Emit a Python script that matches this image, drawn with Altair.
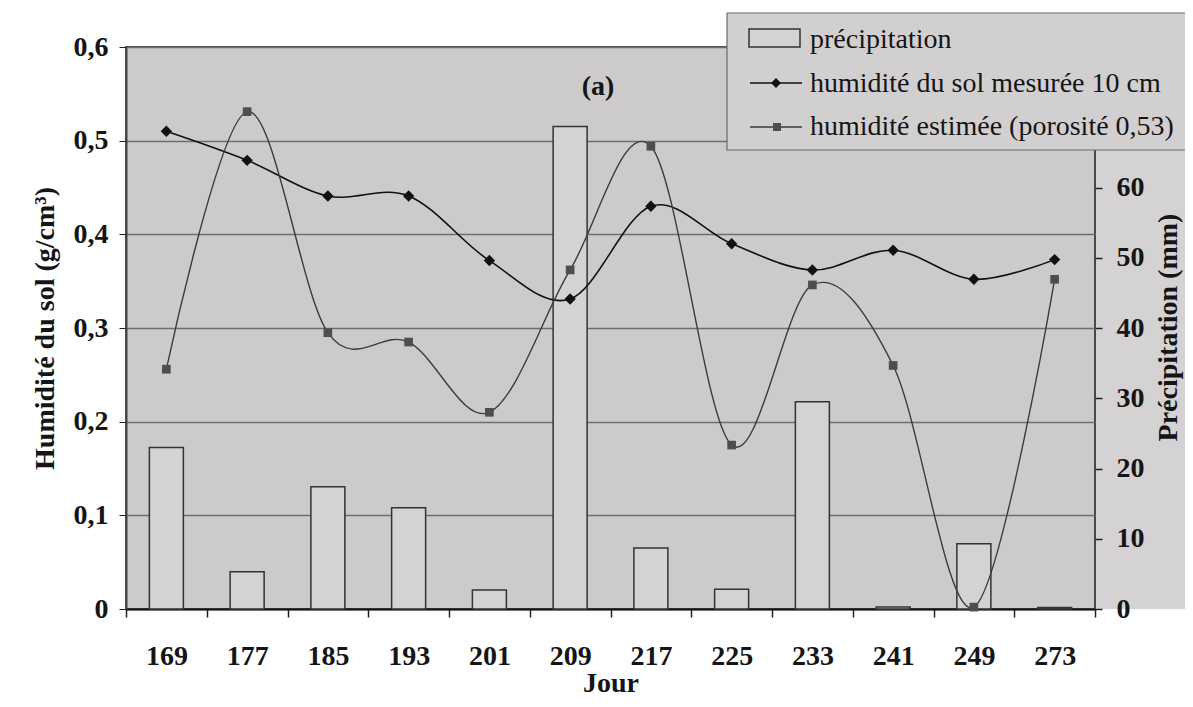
import altair as alt
import pandas as pd

# ---------------- data ----------------
jours = ["169", "177", "185", "193", "201", "209", "217", "225", "233", "241", "249", "273"]
precipitation_mm = [23.0, 5.3, 17.4, 14.4, 2.7, 68.7, 8.7, 2.8, 29.5, 0.3, 9.3, 0.2]
humidite_mesuree = [0.510, 0.479, 0.441, 0.441, 0.372, 0.331, 0.430, 0.390, 0.362, 0.383, 0.352, 0.373]
humidite_estimee = [0.256, 0.531, 0.295, 0.285, 0.210, 0.362, 0.494, 0.175, 0.346, 0.260, 0.002, 0.352]

legend_labels = ["précipitation", "humidité du sol mesurée 10 cm", "humidité estimée (porosité 0,53)"]
left_ticks = [0, 0.1, 0.2, 0.3, 0.4, 0.5, 0.6]
right_ticks = [0, 10, 20, 30, 40, 50, 60]

df_bar = pd.DataFrame({"jour": jours, "precip": precipitation_mm})
df_mes = pd.DataFrame({"jour": jours, "h": humidite_mesuree})
df_est = pd.DataFrame({"jour": jours, "h": humidite_estimee})
one = pd.DataFrame({"k": [0]})

# ---------------- style ----------------
W, H = 969, 562
FONT = "Liberation Serif"
PLOT_BG = "#cdcacb"
STRIP_BG = "#d4d2d3"
LEGEND_BG = "#d2cfd0"
BAR_FILL = "#d4d2d3"

x_enc = alt.X(
    "jour:N",
    sort=jours,
    scale=alt.Scale(paddingInner=0, paddingOuter=0),
    axis=alt.Axis(
        title="Jour",
        labelAngle=0,
        tickBand="extent",
        tickSize=8,
        tickColor="#222",
        tickWidth=1.5,
        domainColor="#111",
        domainWidth=2,
        labelBaseline="middle",
        labelPadding=39,
        titleY=74,
        titleBaseline="middle",
    ),
)

y_left_axis = alt.Axis(
    orient="left",
    title="Humidité du sol (g/cm³)",
    values=left_ticks,
    labelExpr="datum.value == 0 ? '0' : replace(format(datum.value, '.1f'), '.', ',')",
    grid=True,
    gridColor="#6e6e6e",
    gridWidth=1.4,
    tickSize=7,
    tickColor="#222",
    domainColor="#444",
    domainWidth=2,
    labelPadding=11,
    titleAngle=270,
    titleX=-81,
    titleY=281,
    titleAlign="center",
    titleBaseline="middle",
)
y_left = alt.Y("h:Q", scale=alt.Scale(domain=[0, 0.6], nice=False, zero=True), axis=y_left_axis)

y_right = alt.Y(
    "precip:Q",
    scale=alt.Scale(domain=[0, 80], nice=False),
    axis=alt.Axis(
        orient="right",
        title="Précipitation (mm)",
        values=right_ticks,
        grid=False,
        domain=False,
        tickSize=7,
        tickColor="#222",
        tickWidth=1.5,
        labelPadding=14,
        titleAngle=270,
        titleX=73,
        titleY=280,
        titleAlign="center",
        titleBaseline="middle",
        zindex=1,
    ),
)

# ---------------- marks ----------------
strip = alt.Chart(one).mark_rect(fill=STRIP_BG).encode(
    x=alt.value(W + 1), x2=alt.value(W + 95), y=alt.value(0), y2=alt.value(H)
)

bars = alt.Chart(df_bar).mark_bar(size=34, fill=BAR_FILL, stroke="#333", strokeWidth=1.5).encode(
    x=x_enc, y=y_right
)

line_mes = alt.Chart(df_mes).mark_line(
    interpolate="cardinal", tension=0, color="#111", strokeWidth=1.6
).encode(x=x_enc, y=y_left)
pts_mes = alt.Chart(df_mes).mark_point(
    shape="diamond", filled=True, size=130, color="#111", opacity=1
).encode(x=x_enc, y=y_left)

line_est = alt.Chart(df_est).mark_line(
    interpolate="cardinal", tension=0, color="#3c3c3c", strokeWidth=1.4
).encode(x=x_enc, y=y_left)
pts_est = alt.Chart(df_est).mark_point(
    shape="square", filled=True, size=75, color="#4e4e4e", opacity=1
).encode(x=x_enc, y=y_left)

humidity = alt.layer(line_mes, line_est, pts_mes, pts_est)

# legend (decoration)
leg_box = alt.Chart(one).mark_rect(fill=LEGEND_BG, stroke="#6a6a6a", strokeWidth=1.2).encode(
    x=alt.value(601), x2=alt.value(1075), y=alt.value(-34), y2=alt.value(103)
)
leg_sw = alt.Chart(one).mark_rect(fill=BAR_FILL, stroke="#333", strokeWidth=1.5).encode(
    x=alt.value(623), x2=alt.value(674), y=alt.value(-18), y2=alt.value(0)
)
leg_l2 = alt.Chart(one).mark_rule(color="#111", strokeWidth=1.6).encode(
    x=alt.value(624), x2=alt.value(676), y=alt.value(36)
)
leg_p2 = alt.Chart(one).mark_point(shape="diamond", filled=True, size=100, color="#111", opacity=1).encode(
    x=alt.value(650), y=alt.value(36)
)
leg_l3 = alt.Chart(one).mark_rule(color="#3c3c3c", strokeWidth=1.4).encode(
    x=alt.value(624), x2=alt.value(676), y=alt.value(80)
)
leg_p3 = alt.Chart(one).mark_point(shape="square", filled=True, size=64, color="#4e4e4e", opacity=1).encode(
    x=alt.value(651), y=alt.value(80)
)
leg_texts = [
    alt.Chart(one).mark_text(
        align="left", baseline="middle", font=FONT, fontSize=28, color="#151515", text=lab
    ).encode(x=alt.value(684), y=alt.value(yy))
    for lab, yy in zip(legend_labels, [-7, 37, 80])
]

label_a = alt.Chart(one).mark_text(
    align="center", baseline="middle", font=FONT, fontSize=28, fontWeight="bold", color="#151515", text="(a)"
).encode(x=alt.value(472), y=alt.value(40))

chart = (
    alt.layer(strip, bars, humidity, leg_box, leg_sw, leg_l2, leg_p2, leg_l3, leg_p3, *leg_texts, label_a)
    .resolve_scale(y="independent")
    .properties(
        width=W,
        height=H,
        autosize=alt.AutoSizeParams(type="none"),
        padding={"left": 118, "top": 39, "right": 90, "bottom": 90},
        background="white",
    )
    .configure_view(fill=PLOT_BG, stroke="#4a4a4a", strokeWidth=2)
    .configure_axis(
        labelFont=FONT,
        titleFont=FONT,
        labelFontSize=28,
        titleFontSize=28,
        labelFontWeight="bold",
        titleFontWeight="bold",
        labelColor="#151515",
        titleColor="#151515",
    )
)

chart.save("out.html", embed_options={"renderer": "svg", "actions": False})
